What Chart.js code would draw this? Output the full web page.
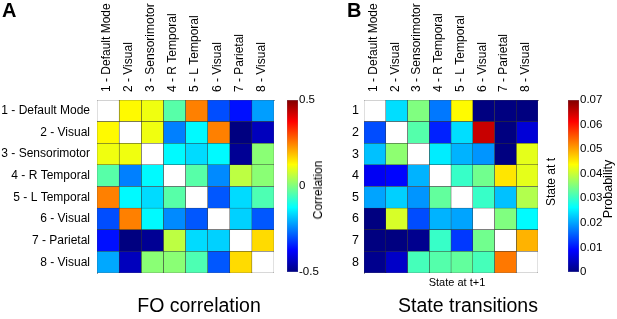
<!DOCTYPE html>
<html>
<head>
<meta charset="utf-8">
<script src="https://cdn.jsdelivr.net/npm/chart.js@4.4.1/dist/chart.umd.min.js"></script>
<style>
  body { margin: 0; width: 617px; height: 319px; position: relative; overflow: hidden; background: #fff;
         font-family: "Liberation Sans", Arial, sans-serif; color: #000; }
  canvas { position: absolute; left: 0; top: 0; }
  .txt { position: absolute; white-space: nowrap; line-height: 1; }
  .big { font-size: 19.5px; transform: translateX(-50%); }
  .panel { font-size: 20px; font-weight: bold; }
  .small { font-size: 11px; }
  .vert { font-size: 12px; transform: translate(-50%, -50%) rotate(-90deg); }
</style>
</head>
<body>
<canvas id="foChart" width="617" height="319"></canvas>
<canvas id="foBar" width="617" height="319"></canvas>
<canvas id="transChart" width="617" height="319"></canvas>
<canvas id="transBar" width="617" height="319"></canvas>

<div class="txt panel" style="left:2px; top:0px;">A</div>
<div class="txt panel" style="left:347px; top:0px;">B</div>
<div class="txt big" style="left:199px; top:296px;">FO correlation</div>
<div class="txt big" style="left:468px; top:296px;">State transitions</div>
<div class="txt small" style="left:457px; top:277px; transform:translateX(-50%);">State at t+1</div>
<div class="txt vert" style="left:318px; top:190px;">Correlation</div>
<div class="txt vert" style="left:551px; top:182px;">State at t</div>
<div class="txt vert" style="left:608px; top:189px; font-size:12.5px;">Probability</div>

<script>
Chart.defaults.font.family = '"Liberation Sans", Arial, sans-serif';
Chart.defaults.color = '#000';

const stateNames = ['1 - Default Mode', '2 - Visual', '3 - Sensorimotor', '4 - R Temporal',
                    '5 - L Temporal', '6 - Visual', '7 - Parietal', '8 - Visual'];
const stateNumbers = ['1', '2', '3', '4', '5', '6', '7', '8'];

// fractional occupancy correlation (diagonal left empty)
const foCorrelation = [
  [null, 0.13, 0.11, -0.04, 0.25, -0.30, -0.36, -0.22],
  [0.13, null, 0.11, -0.25, -0.13, 0.25, -0.50, -0.44],
  [0.11, 0.11, null, -0.13, -0.16, -0.13, -0.48, 0.01],
  [-0.04, -0.25, -0.13, null, -0.04, -0.24, 0.06, 0.01],
  [0.25, -0.13, -0.16, -0.04, null, -0.29, -0.16, -0.05],
  [-0.30, 0.25, -0.13, -0.24, -0.29, null, -0.17, -0.29],
  [-0.36, -0.50, -0.48, 0.06, -0.16, -0.17, null, 0.16],
  [-0.21, -0.44, 0.01, 0.01, -0.05, -0.29, 0.16, null]
];

// transition probabilities, row = state at t, column = state at t+1
const transProb = [
  [null, 0.024, 0.035, 0.017, 0.044, 0.000, 0.000, 0.000],
  [0.014, null, 0.032, 0.011, 0.024, 0.065, 0.000, 0.006],
  [0.022, 0.036, null, 0.025, 0.021, 0.019, 0.000, 0.042],
  [0.008, 0.009, 0.021, null, 0.030, 0.034, 0.0455, 0.042],
  [0.020, 0.023, 0.019, 0.033, null, 0.030, 0.022, 0.0385],
  [0.000, 0.041, 0.014, 0.021, 0.020, null, 0.035, 0.026],
  [0.000, 0.000, 0.001, 0.030, 0.0126, 0.034, null, 0.049],
  [0.001, 0.005, 0.031, 0.032, 0.033, 0.031, 0.053, null]
];

const corrTicks = [-0.5, 0, 0.5];
const probTicks = [0, 0.01, 0.02, 0.03, 0.04, 0.05, 0.06, 0.07];

const tickFont = { size: 12 };

// matlab style jet colormap
function jet(t) {
  t = Math.min(Math.max(t, 0), 1);
  const c = v => Math.round(255 * Math.min(Math.max(v, 0), 1));
  return 'rgb(' + c(1.5 - Math.abs(4 * t - 3)) + ',' + c(1.5 - Math.abs(4 * t - 2)) + ',' + c(1.5 - Math.abs(4 * t - 1)) + ')';
}
const jetStops = [0, 0.125, 0.375, 0.625, 0.875, 1];

// heatmap: each column is one dataset of floating horizontal bars
const matrixChart = function (element, rowLabels, values, min, max, box, rowPad, rowFont) {
  const datasets = stateNames.map((name, j) => ({
    label: name,
    data: rowLabels.map(() => [j + 0.5, j + 1.5]),
    backgroundColor: values.map(row => row[j] === null ? '#ffffff' : jet((row[j] - min) / (max - min))),
    borderColor: '#333333',
    borderWidth: 0.5,
    borderSkipped: false,
    grouped: false,
    barPercentage: 1,
    categoryPercentage: 1
  }));
  return new Chart(element, {
    type: 'bar',
    data: { labels: rowLabels, datasets: datasets },
    options: {
      indexAxis: 'y',
      responsive: false,
      animation: false,
      layout: { padding: { left: box.padLeft, right: 617 - box.right, top: 0, bottom: 319 - box.bottom } },
      plugins: { legend: { display: false }, tooltip: { enabled: false } },
      scales: {
        x: {
          type: 'linear',
          position: 'top',
          min: 0.5,
          max: 8.5,
          afterBuildTicks: s => { s.ticks = stateNames.map((n, i) => ({ value: i + 1 })); },
          afterFit: s => { s.height = box.top; },
          ticks: { callback: v => stateNames[v - 1], minRotation: 90, maxRotation: 90, autoSkip: false,
                   padding: 8, labelOffset: 13, font: tickFont },
          grid: { display: false, drawTicks: false },
          border: { color: '#999999' }
        },
        y: {
          afterFit: s => { s.width = box.left - box.padLeft; },
          ticks: { padding: rowPad, font: rowFont },
          grid: { display: false, drawTicks: false },
          border: { color: '#999999' }
        }
      }
    }
  });
};

const colorBar = function (element, min, max, ticks, box) {
  return new Chart(element, {
    type: 'bar',
    data: {
      labels: [''],
      datasets: [{
        data: [[min, max]],
        backgroundColor: ctx => {
          const area = ctx.chart.chartArea;
          if (!area) return null;
          const g = ctx.chart.ctx.createLinearGradient(0, area.bottom, 0, area.top);
          jetStops.forEach(s => g.addColorStop(s, jet(s)));
          return g;
        },
        borderColor: '#7a86b0',
        borderWidth: 0.5,
        borderSkipped: false,
        barPercentage: 1,
        categoryPercentage: 1
      }]
    },
    options: {
      responsive: false,
      animation: false,
      layout: { padding: { left: box.left, right: 617 - box.right - 30, top: box.top, bottom: 319 - box.bottom } },
      plugins: { legend: { display: false }, tooltip: { enabled: false } },
      scales: {
        x: { display: false },
        y: {
          position: 'right',
          min: min,
          max: max,
          afterBuildTicks: s => { s.ticks = ticks.map(v => ({ value: v })); },
          afterFit: s => { s.width = 30; },
          ticks: { callback: v => String(v), padding: 1, font: { size: 11.5 } },
          grid: { display: false, drawTicks: false },
          border: { display: false }
        }
      }
    }
  });
};

matrixChart(document.getElementById('foChart'), stateNames, foCorrelation, -0.5, 0.5,
  { padLeft: 0, left: 97, right: 274, top: 100, bottom: 273 }, 7, tickFont);
colorBar(document.getElementById('foBar'), -0.5, 0.5, corrTicks, { left: 287, right: 298, top: 100, bottom: 272 });
matrixChart(document.getElementById('transChart'), stateNumbers, transProb, 0, 0.07,
  { padLeft: 330, left: 364, right: 538, top: 100, bottom: 273 }, 5, { size: 12.5 });
colorBar(document.getElementById('transBar'), 0, 0.07, probTicks, { left: 568, right: 579, top: 100, bottom: 272 });
</script>
</body>
</html>
